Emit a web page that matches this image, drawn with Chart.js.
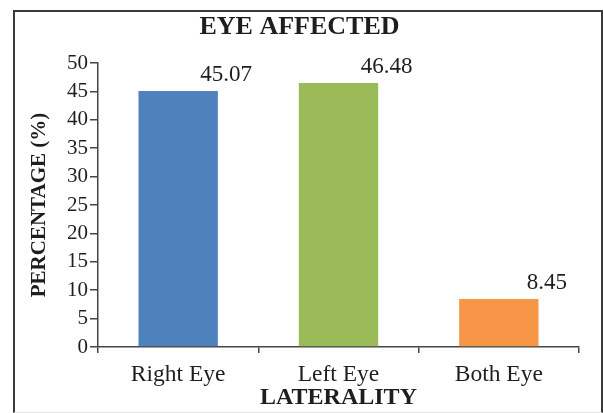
<!DOCTYPE html>
<html>
<head>
<meta charset="utf-8">
<script src="https://cdn.jsdelivr.net/npm/chart.js@4"></script>
<style>
  html, body { margin: 0; padding: 0; background: #fff; }
  #wrap { position: relative; width: 603px; height: 413px; }
  #frame {
    position: absolute; left: 13px; top: 10px; width: 586px; height: 400px;
    border-left: 2px solid #3a3a3a; border-top: 2px solid #3a3a3a;
    border-right: 2px solid #3a3a3a; border-bottom: 1px solid #e2e2e2;
    box-sizing: content-box; pointer-events: none;
  }
  canvas { position: absolute; left: 0; top: 0; }
</style>
</head>
<body>
<div id="wrap">
  <canvas id="chart" width="603" height="413"></canvas>
  <div id="frame"></div>
</div>
<script>
const categories = ["Right Eye", "Left Eye", "Both Eye"];
const percentages = [45.07, 46.48, 8.45];
const barColors = ["#4F81BD", "#9BBB59", "#F79646"];

const serif = "'Liberation Serif', 'Times New Roman', serif";
const ink = "#1e1e1e";
const axisGray = "#454545";

// value labels sit up and to the right of each bar top
const valueLabels = {
    id: "valueLabels",
    afterDatasetsDraw(chart) {
        const { ctx } = chart;
        const meta = chart.getDatasetMeta(0);
        ctx.save();
        ctx.font = "23px " + serif;
        ctx.fillStyle = ink;
        ctx.textAlign = "center";
        ctx.textBaseline = "middle";
        meta.data.forEach((bar, i) => {
            ctx.fillText(percentages[i].toFixed(2), bar.x + 48, bar.y - 16);
        });
        ctx.restore();
    },
};

new Chart(document.getElementById("chart"), {
    type: "bar",
    data: {
        labels: categories,
        datasets: [
            {
                data: percentages,
                backgroundColor: barColors,
                borderWidth: 0,
                categoryPercentage: 1,
                barPercentage: 0.495,
            },
        ],
    },
    options: {
        responsive: false,
        animation: false,
        layout: { padding: { left: 20, right: 24, top: 0, bottom: 1 } },
        plugins: {
            legend: { display: false },
            tooltip: { enabled: false },
            title: {
                display: true,
                text: "EYE AFFECTED",
                color: ink,
                font: { family: serif, size: 26, weight: "bold", lineHeight: 1 },
                padding: { top: 14, bottom: 23 },
            },
        },
        scales: {
            x: {
                grid: {
                    display: true,
                    drawOnChartArea: false,
                    drawTicks: true,
                    tickLength: 6,
                    color: axisGray,
                    lineWidth: 1.5,
                },
                border: { color: axisGray, width: 1.5 },
                ticks: {
                    color: ink,
                    padding: 10.5,
                    font: { family: serif, size: 23.5, lineHeight: 1 },
                },
                title: {
                    display: true,
                    text: "LATERALITY",
                    color: ink,
                    font: { family: serif, size: 24, weight: "bold", lineHeight: 1 },
                    padding: { top: 0, bottom: 2 },
                },
                afterFit(scale) {
                    scale.height = 65;
                },
            },
            y: {
                min: 0,
                max: 50,
                grid: {
                    display: true,
                    drawOnChartArea: false,
                    drawTicks: true,
                    tickLength: 8,
                    color: axisGray,
                    lineWidth: 1.5,
                },
                border: { color: axisGray, width: 1.5 },
                ticks: {
                    stepSize: 5,
                    color: ink,
                    padding: 2,
                    font: { family: serif, size: 21, lineHeight: 1 },
                },
                title: {
                    display: true,
                    text: "PERCENTAGE (%)",
                    color: ink,
                    font: { family: serif, size: 21, weight: "bold", lineHeight: 1 },
                    padding: { top: 9, bottom: 0 },
                },
                afterFit(scale) {
                    scale.width = 78;
                },
            },
        },
    },
    plugins: [valueLabels],
});
</script>
</body>
</html>
